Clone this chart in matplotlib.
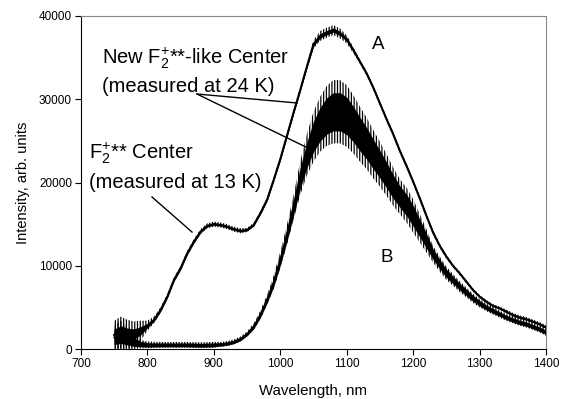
import matplotlib
matplotlib.use("Agg")
import matplotlib.pyplot as plt
import numpy as np

# ---------------- data ----------------
wl_a = [750, 760, 770, 780, 790, 800, 810, 820, 830, 840, 850, 860, 870, 880, 890,
        900, 910, 920, 930, 940, 950, 960, 970, 980, 990, 1000, 1010, 1020, 1030,
        1040, 1050, 1060, 1070, 1080, 1090, 1100, 1110, 1120, 1130, 1140, 1150,
        1160, 1170, 1180, 1190, 1200, 1210, 1220, 1230, 1240, 1250, 1260, 1270,
        1280, 1290, 1300, 1310, 1320, 1330, 1340, 1350, 1360, 1370, 1380, 1390, 1400]
int_a = [1700, 2000, 1800, 1800, 2200, 2800, 3500, 4700, 6300, 8300, 9700, 11500, 12900,
         14100, 14800, 15000, 14900, 14700, 14400, 14200, 14300, 14900, 16300, 17900,
         20300, 22800, 25600, 28400, 31100, 33900, 36600, 37600, 38000, 38300, 37900,
         37200, 35900, 34500, 33100, 31400, 29500, 27600, 25800, 23800, 22000, 20100,
         18100, 16000, 14000, 12400, 11100, 10000, 9100, 8100, 7100, 6300, 5700, 5200,
         4900, 4500, 4100, 3800, 3600, 3300, 3000, 2600]
noise_a = [1700, 1900, 1700, 1500, 1200, 600, 400, 350, 300, 300, 300, 300, 300, 300, 300,
           300, 300, 300, 300, 300, 250, 250, 250, 250, 250, 250, 250, 250, 250,
           300, 500, 600, 600, 600, 600, 500, 350, 250, 250, 250, 250,
           250, 250, 250, 250, 250, 250, 250, 250, 250, 250, 200, 200,
           200, 200, 200, 200, 200, 200, 250, 250, 250, 250, 250, 250, 250]

wl_b = [750, 760, 770, 780, 790, 800, 820, 840, 860, 880, 900, 910, 920, 930, 940, 950,
        960, 970, 980, 990, 1000, 1010, 1020, 1030, 1040, 1050, 1060, 1070, 1080, 1090,
        1100, 1110, 1120, 1130, 1140, 1150, 1160, 1170, 1180, 1190, 1200, 1210, 1220,
        1230, 1240, 1250, 1260, 1270, 1280, 1290, 1300, 1310, 1320, 1330, 1340, 1350,
        1360, 1370, 1380, 1390, 1400]
int_b = [1400, 1700, 1300, 800, 600, 500, 500, 500, 500, 450, 500, 550, 650, 850, 1200,
         1800, 2700, 4100, 5900, 8000, 10700, 13700, 17000, 20500, 23300, 25500, 27000,
         28000, 28500, 28500, 28000, 27000, 25800, 24700, 23400, 22200, 20900, 19500,
         18300, 17300, 16000, 14500, 13000, 11400, 10200, 9100, 8300, 7500, 6800, 6100,
         5500, 5000, 4600, 4200, 3800, 3500, 3200, 3000, 2700, 2400, 2000]
noise_b = [1400, 1700, 1300, 800, 500, 400, 350, 350, 350, 350, 350, 300, 300, 300, 300,
           300, 400, 500, 600, 800, 1000, 1200, 1500, 2000, 2500, 3000, 3300, 3600, 3800,
           3800, 3700, 3500, 3300, 3100, 2900, 2700, 2500, 2300, 2100, 2100, 2000, 1700,
           1400, 1000, 900, 800, 700, 650, 600, 550, 500, 450, 450, 400, 400, 400, 400,
           400, 400, 400, 400]

x_ticks = [700, 800, 900, 1000, 1100, 1200, 1300, 1400]
y_ticks = [0, 10000, 20000, 30000, 40000]

# ---------------- figure ----------------
plt.rcParams['font.family'] = ['Liberation Sans', 'DejaVu Sans']
plt.rcParams['mathtext.fontset'] = 'custom'
plt.rcParams['mathtext.rm'] = 'Liberation Sans'
plt.rcParams['mathtext.it'] = 'Liberation Sans:italic'
plt.rcParams['mathtext.bf'] = 'Liberation Sans:bold'
plt.rcParams['hatch.linewidth'] = 0.9
plt.rcParams['hatch.color'] = 'black'

fig = plt.figure(figsize=(5.62, 3.99), dpi=100)
ax = fig.add_axes([0.1441, 0.1253, 0.8274, 0.8346])

wa = np.array(wl_a); ia = np.array(int_a); na = np.array(noise_a)
wb = np.array(wl_b); ib = np.array(int_b); nb = np.array(noise_b)

# noisy envelope: spiky outer band (vertical hatch) + dense core
ax.fill_between(wa, np.clip(ia - na, 0, None), ia + na, facecolor='none',
                edgecolor='black', hatch='||||||', lw=0)
ax.fill_between(wa, np.clip(ia - 0.4 * na, 0, None), ia + 0.4 * na, color='black', lw=0.2)
ax.plot(wa, ia, color='black', lw=1.5)

ax.fill_between(wb, np.clip(ib - nb, 0, None), ib + nb, facecolor='none',
                edgecolor='black', hatch='||||||', lw=0)
ax.fill_between(wb, np.clip(ib - 0.6 * nb, 0, None), ib + 0.6 * nb, color='black', lw=0.2)
ax.plot(wb, ib, color='black', lw=1.2)

ax.set_xlim(700, 1400)
ax.set_ylim(0, 40000)
ax.set_xticks(x_ticks)
ax.set_yticks(y_ticks)
ax.tick_params(direction='out', length=4.5, width=0.8, labelsize=8.5, pad=2)
for s in ['top', 'right']:
    ax.spines[s].set_color('#888888')
    ax.spines[s].set_linewidth(0.8)
for s in ['left', 'bottom']:
    ax.spines[s].set_color('black')
    ax.spines[s].set_linewidth(0.8)

ax.set_xlabel('Wavelength, nm', fontsize=10.8, labelpad=10)
ax.set_ylabel('Intensity, arb. units', fontsize=10.5, labelpad=6)

fs = 14.5
ax.text(731, 34350, r'New $\mathrm{F}_2^{+}$**-like Center', fontsize=fs, va='baseline', ha='left')
ax.text(731, 30830, '(measured at 24 K)', fontsize=fs, va='baseline', ha='left')
ax.text(712, 22940, r'$\mathrm{F}_2^{+}$** Center', fontsize=fs, va='baseline', ha='left')
ax.text(712, 19300, '(measured at 13 K)', fontsize=fs, va='baseline', ha='left')
ax.text(1147, 36600, 'A', fontsize=13.5, va='center', ha='center')
ax.text(1161, 11050, 'B', fontsize=13.5, va='center', ha='center')

ax.plot([874.6, 1025.2], [30630, 29550], color='black', lw=1.0)
ax.plot([874.6, 1041.7], [30630, 24140], color='black', lw=1.0)
ax.plot([806.9, 867.1], [18260, 14050], color='black', lw=1.0)

fig.savefig('out.png', dpi=100)
